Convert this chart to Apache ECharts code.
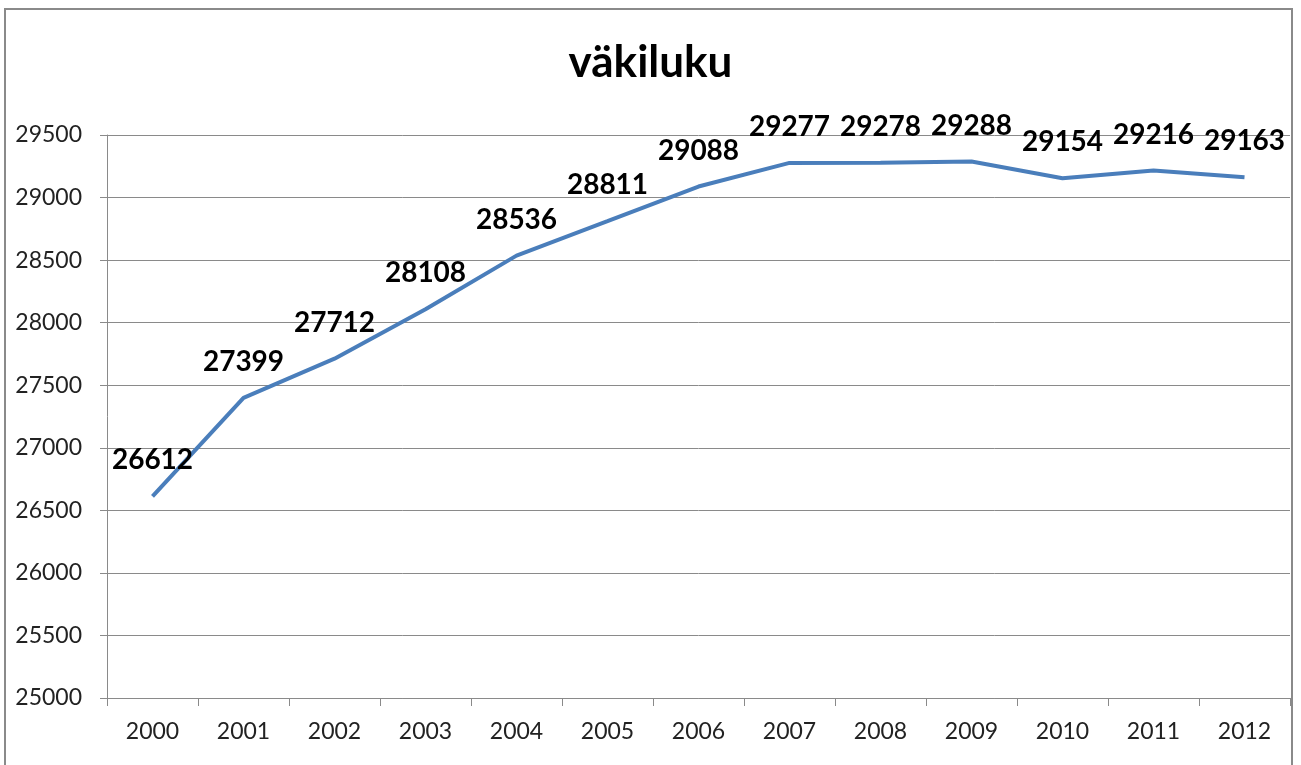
<!DOCTYPE html>
<html lang="fi">
<head>
  <meta charset="UTF-8">
  <title>väkiluku</title>
  <style>
    html, body { height: 100%; width: 100%; margin: 0; padding: 0; background: #fff; }
  </style>
  <script src="https://cdn.jsdelivr.net/npm/echarts@6/dist/echarts.min.js"></script>
</head>
<body>
<div id="main" style="width: 1301px; height: 765px;"></div>
<script>
  var years = ['2000', '2001', '2002', '2003', '2004', '2005', '2006', '2007', '2008', '2009', '2010', '2011', '2012'];
  var population = [26612, 27399, 27712, 28108, 28536, 28811, 29088, 29277, 29278, 29288, 29154, 29216, 29163];

  var myChart = echarts.init(document.getElementById('main'));
  var fontFam = 'Lato, "Open Sans", sans-serif';

  var option = {
    animation: false,
    backgroundColor: '#fff',
    title: {
      text: 'väkiluku',
      left: 'center',
      top: 36,
      textStyle: { fontFamily: fontFam, fontSize: 44, fontWeight: 'bold', color: '#000' }
    },
    // frame round the chart
    graphic: [{
      type: 'rect',
      shape: { x: 5, y: 9, width: 1287, height: 780 },
      style: { fill: 'none', stroke: '#8a8a8a', lineWidth: 2 },
      silent: true
    }],
    grid: { left: 107, right: 11, top: 135, bottom: 67 },
    xAxis: {
      type: 'category',
      data: years,
      boundaryGap: true,
      axisLine: { lineStyle: { color: '#8a8a8a', width: 1 } },
      axisTick: { show: true, length: 8, lineStyle: { color: '#8a8a8a' } },
      axisLabel: { fontFamily: fontFam, fontSize: 23, color: '#222', margin: 22 }
    },
    yAxis: {
      type: 'value',
      min: 25000,
      max: 29500,
      interval: 500,
      axisLine: { show: true, lineStyle: { color: '#8a8a8a', width: 1 } },
      axisTick: { show: true, length: 7, lineStyle: { color: '#8a8a8a' } },
      axisLabel: {
        fontFamily: fontFam, fontSize: 23, color: '#222', margin: 25,
        formatter: function (v) { return String(v); }
      },
      splitLine: { lineStyle: { color: '#8a8a8a', width: 1 } }
    },
    series: [{
      type: 'line',
      data: population,
      symbol: 'circle',
      symbolSize: 0,
      showSymbol: true,
      lineStyle: { color: '#4a7ebb', width: 4 },
      itemStyle: { color: '#4a7ebb' },
      label: {
        show: true,
        position: 'top',
        distance: 22,
        fontFamily: fontFam,
        fontSize: 28,
        fontWeight: 'bold',
        color: '#000'
      }
    }]
  };
  myChart.setOption(option);
</script>
</body>
</html>
